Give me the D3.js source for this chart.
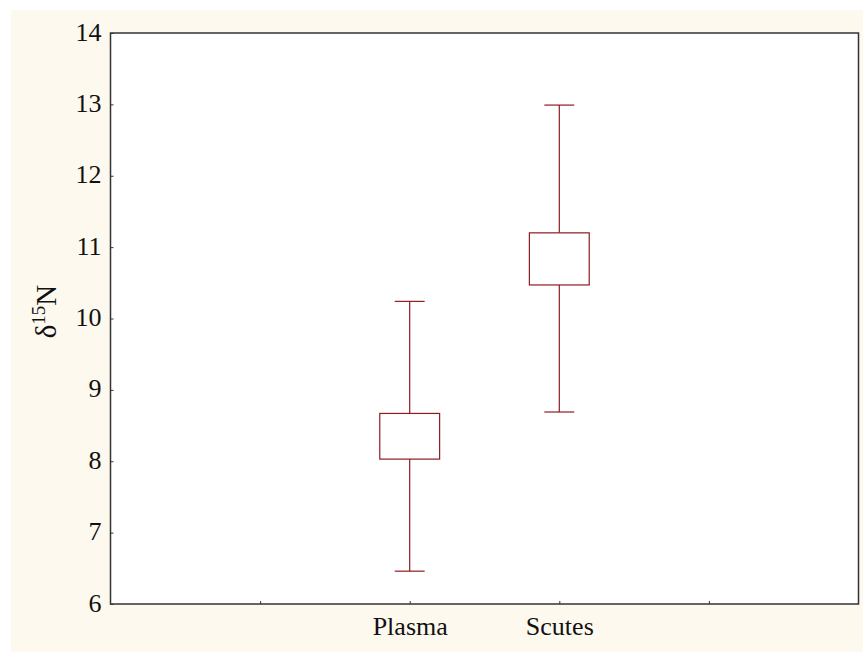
<!DOCTYPE html>
<html>
<head>
<meta charset="utf-8">
<script src="https://cdn.jsdelivr.net/npm/d3@7"></script>
<style>
  body { margin: 0; background: #fff; }
  svg text { font-family: "Liberation Serif", "DejaVu Serif", serif; fill: #111; }
</style>
</head>
<body>
<svg id="chart" width="863" height="652"></svg>
<script>
const categories = ["Plasma", "Scutes"];
const catPos = [2, 3];
const boxLow = [8.03, 10.47];
const boxHigh = [8.67, 11.20];
const whiskerLow = [6.46, 8.69];
const whiskerHigh = [10.24, 12.99];
const yTicks = [6, 7, 8, 9, 10, 11, 12, 13, 14];
const xTicks = [1, 2, 3, 4];

const margin = {top: 33, right: 4.5, bottom: 48, left: 110.5};
const W = 863, H = 652;

const svg = d3.select("#chart");

svg.append("rect")
    .attr("x", 11).attr("y", 10)
    .attr("width", W - 11).attr("height", H - 10)
    .attr("fill", "#fef9ee");

const x = d3.scaleLinear().domain([0, 5]).range([margin.left, W - margin.right]);
const y = d3.scaleLinear().domain([6, 14]).range([H - margin.bottom, margin.top]);

// plot area
svg.append("rect")
    .attr("x", x(0)).attr("y", y(14))
    .attr("width", x(5) - x(0)).attr("height", y(6) - y(14))
    .attr("fill", "#fff")
    .attr("stroke", "#333")
    .attr("stroke-width", 1.5);

// y axis
const yAxis = svg.append("g")
    .attr("transform", `translate(${x(0)},0)`)
    .call(d3.axisLeft(y).tickValues(yTicks).tickSize(-3).tickPadding(10));
yAxis.select(".domain").remove();
yAxis.selectAll("line").attr("stroke", "#333");
yAxis.selectAll("text")
    .attr("font-size", 26)
    .attr("dy", "0.27em")
    .attr("x", -9);

// x axis
const xAxis = svg.append("g")
    .attr("transform", `translate(0,${y(6)})`)
    .call(d3.axisBottom(x).tickValues(xTicks).tickSize(-3)
        .tickFormat(d => {
            const i = catPos.indexOf(d);
            return i >= 0 ? categories[i] : "";
        }));
xAxis.select(".domain").remove();
xAxis.selectAll("line").attr("stroke", "#333");
xAxis.selectAll("text")
    .attr("font-size", 26)
    .attr("y", 0)
    .attr("dy", 31);

// y label
const yl = svg.append("text")
    .attr("transform", `translate(56,${(y(6) + y(14)) / 2 - 7}) rotate(-90)`)
    .attr("text-anchor", "middle")
    .attr("font-size", 29);
yl.append("tspan").text("δ");
yl.append("tspan").text("15").attr("font-size", 19).attr("dy", -11);
yl.append("tspan").text("N").attr("dy", 11);

// boxes
const boxW = x(0.4) - x(0);
const capW = x(0.2) - x(0);
const g = svg.append("g")
    .attr("stroke", "#8e1b1f")
    .attr("stroke-width", 1.2)
    .attr("fill", "none");

const items = categories.map((c, i) => ({
    c, pos: catPos[i], lo: boxLow[i], hi: boxHigh[i], wl: whiskerLow[i], wh: whiskerHigh[i]
}));

const grp = g.selectAll("g").data(items).join("g");

grp.append("line")
    .attr("x1", d => x(d.pos)).attr("x2", d => x(d.pos))
    .attr("y1", d => y(d.hi)).attr("y2", d => y(d.wh));
grp.append("line")
    .attr("x1", d => x(d.pos)).attr("x2", d => x(d.pos))
    .attr("y1", d => y(d.lo)).attr("y2", d => y(d.wl));
grp.append("line")
    .attr("x1", d => x(d.pos) - capW / 2).attr("x2", d => x(d.pos) + capW / 2)
    .attr("y1", d => y(d.wh)).attr("y2", d => y(d.wh));
grp.append("line")
    .attr("x1", d => x(d.pos) - capW / 2).attr("x2", d => x(d.pos) + capW / 2)
    .attr("y1", d => y(d.wl)).attr("y2", d => y(d.wl));
grp.append("rect")
    .attr("x", d => x(d.pos) - boxW / 2)
    .attr("width", boxW)
    .attr("y", d => y(d.hi))
    .attr("height", d => y(d.lo) - y(d.hi))
    .attr("fill", "#fff");
</script>
</body>
</html>
